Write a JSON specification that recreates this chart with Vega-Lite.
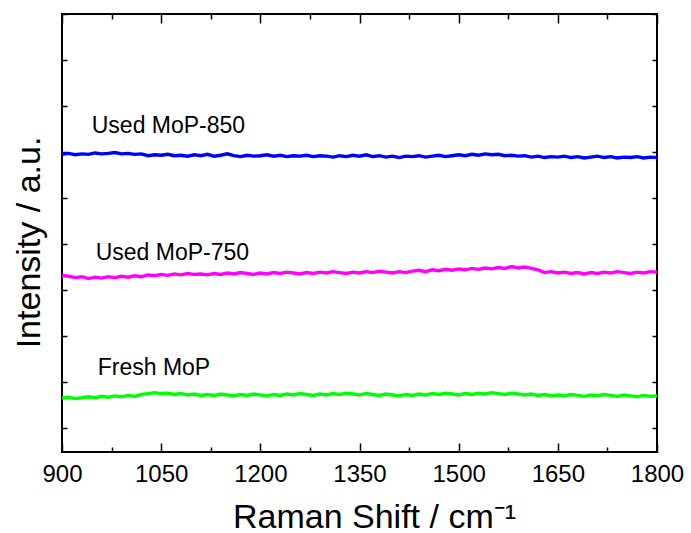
{
"$schema": "https://vega.github.io/schema/vega-lite/v6.json",
"width": 595, "height": 438,
"autosize": "none",
"padding": {"left": 62, "top": 14, "right": 34, "bottom": 81},
"background": "white",
"config": {
 "view": {"stroke": "black", "strokeWidth": 2},
 "font": "Liberation Sans",
 "axis": {"grid": false, "domain": false, "tickColor": "black", "tickWidth": 1.5, "labelColor": "black", "titleColor": "black", "labelFont": "Liberation Sans", "titleFont": "Liberation Sans", "titleFontWeight": "normal"}
},
"datasets": {
 "labels": [
  {"x": 945, "y": 6.41, "t": "Used MoP-850"},
  {"x": 951, "y": 3.65, "t": "Used MoP-750"},
  {"x": 954, "y": 1.15, "t": "Fresh MoP"}
 ],
 "spectra": [
{"x":900,"y":5.95,"s":"850"},{"x":910,"y":5.97,"s":"850"},{"x":920,"y":5.94,"s":"850"},{"x":930,"y":5.96,"s":"850"},{"x":940,"y":5.95,"s":"850"},{"x":950,"y":5.98,"s":"850"},{"x":960,"y":5.96,"s":"850"},{"x":970,"y":5.97,"s":"850"},{"x":980,"y":5.99,"s":"850"},{"x":990,"y":5.96,"s":"850"},
{"x":1000,"y":5.97,"s":"850"},{"x":1010,"y":5.95,"s":"850"},{"x":1020,"y":5.96,"s":"850"},{"x":1030,"y":5.92,"s":"850"},{"x":1040,"y":5.94,"s":"850"},{"x":1050,"y":5.93,"s":"850"},{"x":1060,"y":5.95,"s":"850"},{"x":1070,"y":5.92,"s":"850"},{"x":1080,"y":5.93,"s":"850"},{"x":1090,"y":5.91,"s":"850"},
{"x":1100,"y":5.94,"s":"850"},{"x":1110,"y":5.92,"s":"850"},{"x":1120,"y":5.95,"s":"850"},{"x":1130,"y":5.91,"s":"850"},{"x":1140,"y":5.93,"s":"850"},{"x":1150,"y":5.96,"s":"850"},{"x":1160,"y":5.92,"s":"850"},{"x":1170,"y":5.90,"s":"850"},{"x":1180,"y":5.93,"s":"850"},{"x":1190,"y":5.91,"s":"850"},
{"x":1200,"y":5.92,"s":"850"},{"x":1210,"y":5.94,"s":"850"},{"x":1220,"y":5.91,"s":"850"},{"x":1230,"y":5.93,"s":"850"},{"x":1240,"y":5.90,"s":"850"},{"x":1250,"y":5.92,"s":"850"},{"x":1260,"y":5.91,"s":"850"},{"x":1270,"y":5.93,"s":"850"},{"x":1280,"y":5.90,"s":"850"},{"x":1290,"y":5.92,"s":"850"},
{"x":1300,"y":5.91,"s":"850"},{"x":1310,"y":5.89,"s":"850"},{"x":1320,"y":5.92,"s":"850"},{"x":1330,"y":5.90,"s":"850"},{"x":1340,"y":5.93,"s":"850"},{"x":1350,"y":5.91,"s":"850"},{"x":1360,"y":5.94,"s":"850"},{"x":1370,"y":5.90,"s":"850"},{"x":1380,"y":5.92,"s":"850"},{"x":1390,"y":5.89,"s":"850"},
{"x":1400,"y":5.91,"s":"850"},{"x":1410,"y":5.88,"s":"850"},{"x":1420,"y":5.91,"s":"850"},{"x":1430,"y":5.90,"s":"850"},{"x":1440,"y":5.92,"s":"850"},{"x":1450,"y":5.89,"s":"850"},{"x":1460,"y":5.91,"s":"850"},{"x":1470,"y":5.93,"s":"850"},{"x":1480,"y":5.90,"s":"850"},{"x":1490,"y":5.92,"s":"850"},
{"x":1500,"y":5.94,"s":"850"},{"x":1510,"y":5.92,"s":"850"},{"x":1520,"y":5.95,"s":"850"},{"x":1530,"y":5.93,"s":"850"},{"x":1540,"y":5.96,"s":"850"},{"x":1550,"y":5.94,"s":"850"},{"x":1560,"y":5.95,"s":"850"},{"x":1570,"y":5.92,"s":"850"},{"x":1580,"y":5.93,"s":"850"},{"x":1590,"y":5.91,"s":"850"},
{"x":1600,"y":5.92,"s":"850"},{"x":1610,"y":5.89,"s":"850"},{"x":1620,"y":5.91,"s":"850"},{"x":1630,"y":5.88,"s":"850"},{"x":1640,"y":5.90,"s":"850"},{"x":1650,"y":5.89,"s":"850"},{"x":1660,"y":5.91,"s":"850"},{"x":1670,"y":5.88,"s":"850"},{"x":1680,"y":5.90,"s":"850"},{"x":1690,"y":5.87,"s":"850"},
{"x":1700,"y":5.89,"s":"850"},{"x":1710,"y":5.91,"s":"850"},{"x":1720,"y":5.88,"s":"850"},{"x":1730,"y":5.90,"s":"850"},{"x":1740,"y":5.87,"s":"850"},{"x":1750,"y":5.89,"s":"850"},{"x":1760,"y":5.88,"s":"850"},{"x":1770,"y":5.90,"s":"850"},{"x":1780,"y":5.87,"s":"850"},{"x":1790,"y":5.89,"s":"850"},{"x":1800,"y":5.88,"s":"850"},
{"x":900,"y":3.32,"s":"750"},{"x":910,"y":3.30,"s":"750"},{"x":920,"y":3.27,"s":"750"},{"x":930,"y":3.29,"s":"750"},{"x":940,"y":3.25,"s":"750"},{"x":950,"y":3.28,"s":"750"},{"x":960,"y":3.26,"s":"750"},{"x":970,"y":3.29,"s":"750"},{"x":980,"y":3.27,"s":"750"},{"x":990,"y":3.30,"s":"750"},
{"x":1000,"y":3.28,"s":"750"},{"x":1010,"y":3.31,"s":"750"},{"x":1020,"y":3.29,"s":"750"},{"x":1030,"y":3.33,"s":"750"},{"x":1040,"y":3.31,"s":"750"},{"x":1050,"y":3.34,"s":"750"},{"x":1060,"y":3.32,"s":"750"},{"x":1070,"y":3.35,"s":"750"},{"x":1080,"y":3.33,"s":"750"},{"x":1090,"y":3.36,"s":"750"},
{"x":1100,"y":3.34,"s":"750"},{"x":1110,"y":3.35,"s":"750"},{"x":1120,"y":3.33,"s":"750"},{"x":1130,"y":3.36,"s":"750"},{"x":1140,"y":3.34,"s":"750"},{"x":1150,"y":3.37,"s":"750"},{"x":1160,"y":3.35,"s":"750"},{"x":1170,"y":3.38,"s":"750"},{"x":1180,"y":3.36,"s":"750"},{"x":1190,"y":3.34,"s":"750"},
{"x":1200,"y":3.37,"s":"750"},{"x":1210,"y":3.35,"s":"750"},{"x":1220,"y":3.38,"s":"750"},{"x":1230,"y":3.36,"s":"750"},{"x":1240,"y":3.39,"s":"750"},{"x":1250,"y":3.37,"s":"750"},{"x":1260,"y":3.35,"s":"750"},{"x":1270,"y":3.38,"s":"750"},{"x":1280,"y":3.36,"s":"750"},{"x":1290,"y":3.39,"s":"750"},
{"x":1300,"y":3.37,"s":"750"},{"x":1310,"y":3.40,"s":"750"},{"x":1320,"y":3.38,"s":"750"},{"x":1330,"y":3.36,"s":"750"},{"x":1340,"y":3.39,"s":"750"},{"x":1350,"y":3.37,"s":"750"},{"x":1360,"y":3.40,"s":"750"},{"x":1370,"y":3.38,"s":"750"},{"x":1380,"y":3.41,"s":"750"},{"x":1390,"y":3.39,"s":"750"},
{"x":1400,"y":3.37,"s":"750"},{"x":1410,"y":3.40,"s":"750"},{"x":1420,"y":3.38,"s":"750"},{"x":1430,"y":3.41,"s":"750"},{"x":1440,"y":3.43,"s":"750"},{"x":1450,"y":3.40,"s":"750"},{"x":1460,"y":3.44,"s":"750"},{"x":1470,"y":3.42,"s":"750"},{"x":1480,"y":3.45,"s":"750"},{"x":1490,"y":3.43,"s":"750"},
{"x":1500,"y":3.46,"s":"750"},{"x":1510,"y":3.44,"s":"750"},{"x":1520,"y":3.47,"s":"750"},{"x":1530,"y":3.45,"s":"750"},{"x":1540,"y":3.48,"s":"750"},{"x":1550,"y":3.46,"s":"750"},{"x":1560,"y":3.49,"s":"750"},{"x":1570,"y":3.47,"s":"750"},{"x":1580,"y":3.51,"s":"750"},{"x":1590,"y":3.48,"s":"750"},
{"x":1600,"y":3.50,"s":"750"},{"x":1610,"y":3.47,"s":"750"},{"x":1620,"y":3.44,"s":"750"},{"x":1630,"y":3.38,"s":"750"},{"x":1640,"y":3.40,"s":"750"},{"x":1650,"y":3.37,"s":"750"},{"x":1660,"y":3.39,"s":"750"},{"x":1670,"y":3.36,"s":"750"},{"x":1680,"y":3.38,"s":"750"},{"x":1690,"y":3.35,"s":"750"},
{"x":1700,"y":3.38,"s":"750"},{"x":1710,"y":3.36,"s":"750"},{"x":1720,"y":3.39,"s":"750"},{"x":1730,"y":3.37,"s":"750"},{"x":1740,"y":3.40,"s":"750"},{"x":1750,"y":3.38,"s":"750"},{"x":1760,"y":3.36,"s":"750"},{"x":1770,"y":3.39,"s":"750"},{"x":1780,"y":3.37,"s":"750"},{"x":1790,"y":3.40,"s":"750"},{"x":1800,"y":3.39,"s":"750"},
{"x":900,"y":0.65,"s":"fresh"},{"x":910,"y":0.67,"s":"fresh"},{"x":920,"y":0.64,"s":"fresh"},{"x":930,"y":0.66,"s":"fresh"},{"x":940,"y":0.68,"s":"fresh"},{"x":950,"y":0.66,"s":"fresh"},{"x":960,"y":0.69,"s":"fresh"},{"x":970,"y":0.67,"s":"fresh"},{"x":980,"y":0.70,"s":"fresh"},{"x":990,"y":0.68,"s":"fresh"},
{"x":1000,"y":0.71,"s":"fresh"},{"x":1010,"y":0.69,"s":"fresh"},{"x":1020,"y":0.73,"s":"fresh"},{"x":1030,"y":0.75,"s":"fresh"},{"x":1040,"y":0.77,"s":"fresh"},{"x":1050,"y":0.75,"s":"fresh"},{"x":1060,"y":0.76,"s":"fresh"},{"x":1070,"y":0.73,"s":"fresh"},{"x":1080,"y":0.75,"s":"fresh"},{"x":1090,"y":0.72,"s":"fresh"},
{"x":1100,"y":0.74,"s":"fresh"},{"x":1110,"y":0.71,"s":"fresh"},{"x":1120,"y":0.73,"s":"fresh"},{"x":1130,"y":0.71,"s":"fresh"},{"x":1140,"y":0.74,"s":"fresh"},{"x":1150,"y":0.72,"s":"fresh"},{"x":1160,"y":0.70,"s":"fresh"},{"x":1170,"y":0.73,"s":"fresh"},{"x":1180,"y":0.71,"s":"fresh"},{"x":1190,"y":0.74,"s":"fresh"},
{"x":1200,"y":0.72,"s":"fresh"},{"x":1210,"y":0.70,"s":"fresh"},{"x":1220,"y":0.73,"s":"fresh"},{"x":1230,"y":0.71,"s":"fresh"},{"x":1240,"y":0.74,"s":"fresh"},{"x":1250,"y":0.72,"s":"fresh"},{"x":1260,"y":0.75,"s":"fresh"},{"x":1270,"y":0.73,"s":"fresh"},{"x":1280,"y":0.71,"s":"fresh"},{"x":1290,"y":0.74,"s":"fresh"},
{"x":1300,"y":0.72,"s":"fresh"},{"x":1310,"y":0.75,"s":"fresh"},{"x":1320,"y":0.73,"s":"fresh"},{"x":1330,"y":0.76,"s":"fresh"},{"x":1340,"y":0.74,"s":"fresh"},{"x":1350,"y":0.72,"s":"fresh"},{"x":1360,"y":0.75,"s":"fresh"},{"x":1370,"y":0.73,"s":"fresh"},{"x":1380,"y":0.71,"s":"fresh"},{"x":1390,"y":0.74,"s":"fresh"},
{"x":1400,"y":0.72,"s":"fresh"},{"x":1410,"y":0.70,"s":"fresh"},{"x":1420,"y":0.73,"s":"fresh"},{"x":1430,"y":0.71,"s":"fresh"},{"x":1440,"y":0.74,"s":"fresh"},{"x":1450,"y":0.72,"s":"fresh"},{"x":1460,"y":0.75,"s":"fresh"},{"x":1470,"y":0.73,"s":"fresh"},{"x":1480,"y":0.76,"s":"fresh"},{"x":1490,"y":0.74,"s":"fresh"},
{"x":1500,"y":0.72,"s":"fresh"},{"x":1510,"y":0.75,"s":"fresh"},{"x":1520,"y":0.73,"s":"fresh"},{"x":1530,"y":0.76,"s":"fresh"},{"x":1540,"y":0.74,"s":"fresh"},{"x":1550,"y":0.77,"s":"fresh"},{"x":1560,"y":0.75,"s":"fresh"},{"x":1570,"y":0.73,"s":"fresh"},{"x":1580,"y":0.76,"s":"fresh"},{"x":1590,"y":0.74,"s":"fresh"},
{"x":1600,"y":0.72,"s":"fresh"},{"x":1610,"y":0.74,"s":"fresh"},{"x":1620,"y":0.71,"s":"fresh"},{"x":1630,"y":0.73,"s":"fresh"},{"x":1640,"y":0.70,"s":"fresh"},{"x":1650,"y":0.72,"s":"fresh"},{"x":1660,"y":0.70,"s":"fresh"},{"x":1670,"y":0.73,"s":"fresh"},{"x":1680,"y":0.71,"s":"fresh"},{"x":1690,"y":0.69,"s":"fresh"},
{"x":1700,"y":0.72,"s":"fresh"},{"x":1710,"y":0.70,"s":"fresh"},{"x":1720,"y":0.73,"s":"fresh"},{"x":1730,"y":0.71,"s":"fresh"},{"x":1740,"y":0.69,"s":"fresh"},{"x":1750,"y":0.72,"s":"fresh"},{"x":1760,"y":0.70,"s":"fresh"},{"x":1770,"y":0.68,"s":"fresh"},{"x":1780,"y":0.71,"s":"fresh"},{"x":1790,"y":0.69,"s":"fresh"},{"x":1800,"y":0.70,"s":"fresh"}
 ]
},
"layer": [
 {
  "data": {"name": "spectra"},
  "mark": {"type": "line", "strokeWidth": 3.4, "clip": true},
  "encoding": {
   "x": {"field": "x", "type": "quantitative", "scale": {"domain": [900, 1800], "nice": false, "zero": false},
    "axis": {"orient": "bottom", "values": [900, 975, 1050, 1125, 1200, 1275, 1350, 1425, 1500, 1575, 1650, 1725, 1800], "format": "d",
     "labelExpr": "datum.value % 150 == 0 ? datum.label : ''",
     "tickSize": {"condition": {"test": "datum.value % 150 == 0", "value": -9}, "value": -5},
     "labelPadding": 19, "labelFontSize": 24, "labelFlush": false, "labelOverlap": false,
     "title": "Raman Shift / cm⁻¹", "titleFontSize": 34, "titleX": 312, "titleY": 75, "titleAlign": "center", "titleBaseline": "alphabetic"}},
   "y": {"field": "y", "type": "quantitative", "scale": {"domain": [-0.52, 9], "nice": false, "zero": false},
    "axis": {"orient": "left", "values": [0, 1, 2, 3, 4, 5, 6, 7, 8, 9], "tickSize": -5, "labels": false,
     "title": "Intensity / a.u.", "titleFontSize": 34, "titleAngle": -90, "titleX": -23, "titleY": 228, "titleAlign": "center", "titleBaseline": "alphabetic"}},
   "color": {"field": "s", "type": "nominal", "scale": {"domain": ["850", "750", "fresh"], "range": ["#0000ff", "#ff00ff", "#00ff00"]}, "legend": null}
  }
 },
 {
  "data": {"name": "labels"},
  "mark": {"type": "text", "align": "left", "baseline": "alphabetic", "fontSize": 23, "font": "Liberation Sans", "color": "black"},
  "encoding": {
   "x": {"field": "x", "type": "quantitative", "scale": {"domain": [900, 1800], "nice": false, "zero": false},
    "axis": {"orient": "top", "values": [900, 975, 1050, 1125, 1200, 1275, 1350, 1425, 1500, 1575, 1650, 1725, 1800], "labels": false,
     "tickSize": {"condition": {"test": "datum.value % 150 == 0", "value": -9}, "value": -5}, "title": null}},
   "y": {"field": "y", "type": "quantitative", "scale": {"domain": [-0.52, 9], "nice": false, "zero": false},
    "axis": {"orient": "right", "values": [0, 1, 2, 3, 4, 5, 6, 7, 8, 9], "tickSize": -5, "labels": false, "title": null}},
   "text": {"field": "t"}
  }
 }
],
"resolve": {"axis": {"x": "independent", "y": "independent"}}
}
